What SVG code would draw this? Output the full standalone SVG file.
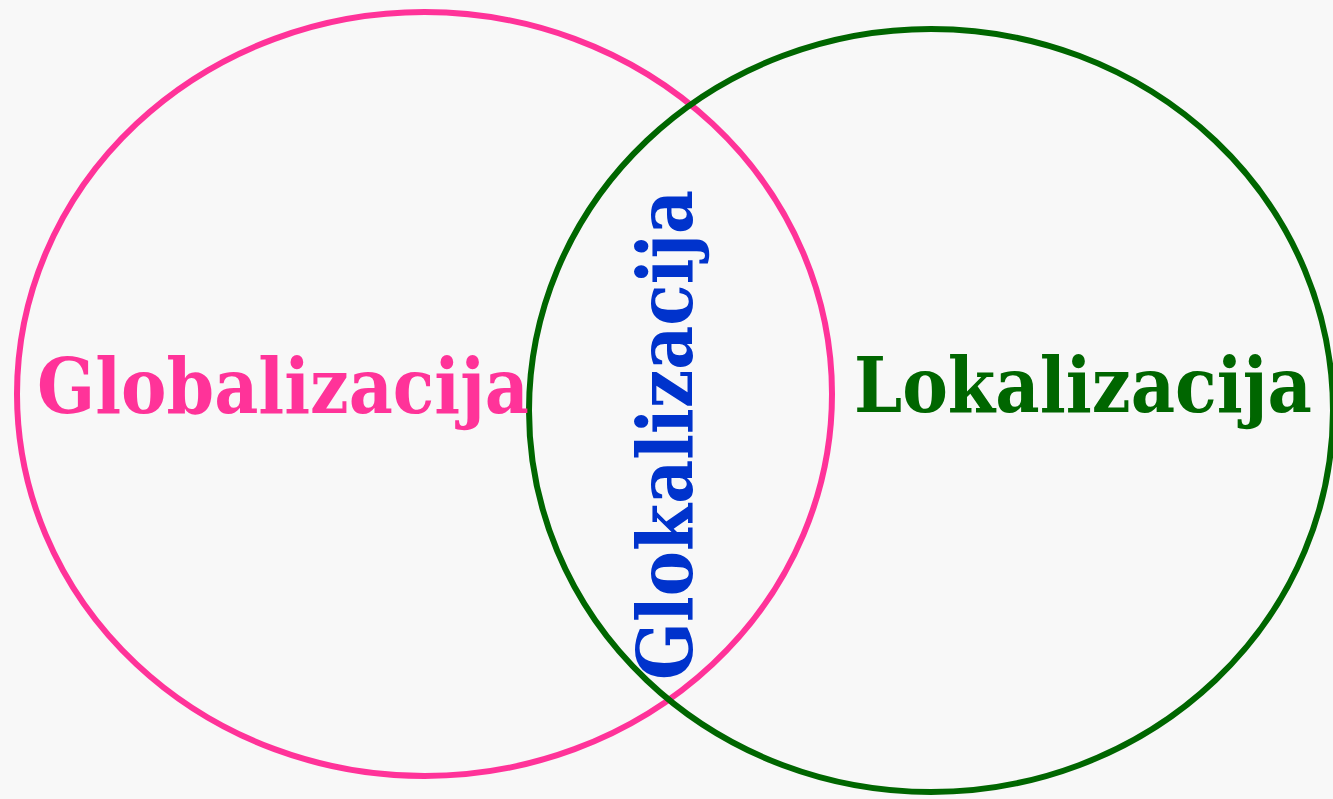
<svg xmlns="http://www.w3.org/2000/svg" width="1333" height="799" viewBox="0 0 1333 799">
<style>
.c{fill:none;stroke-width:6}
.t{font-family:"DejaVu Serif","Liberation Serif",serif;font-weight:bold;font-size:76px}
</style>
<rect width="1333" height="799" fill="#f8f8f8"/>
<g id="globalizacija-circle"><ellipse class="c" cx="424.5" cy="394" rx="407.5" ry="382" stroke="#ff3399"/></g>
<g id="lokalizacija-circle"><ellipse class="c" cx="931" cy="410.5" rx="402" ry="381.5" stroke="#006600"/></g>
<g id="globalizacija"><text class="t" x="37" y="413" fill="#ff3399" textLength="492" lengthAdjust="spacingAndGlyphs">Globalizacija</text></g>
<g id="lokalizacija"><text class="t" x="854" y="412" fill="#006600" textLength="458" lengthAdjust="spacingAndGlyphs">Lokalizacija</text></g>
<g id="glokalizacija"><text class="t" transform="translate(692,680) rotate(-90)" fill="#0033cc" textLength="490" lengthAdjust="spacingAndGlyphs">Glokalizacija</text></g>
</svg>
